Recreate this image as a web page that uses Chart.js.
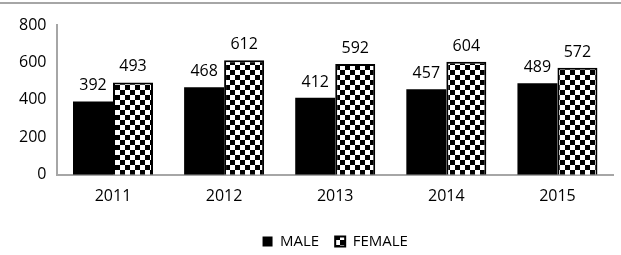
<!DOCTYPE html>
<html>
<head>
<meta charset="utf-8">
<script src="https://cdn.jsdelivr.net/npm/chart.js@4.4.1/dist/chart.umd.min.js"></script>
<style>
  html, body { margin: 0; padding: 0; background: #fff; }
  #wrap { width: 621px; height: 255px; position: relative; }
</style>
</head>
<body>
<div id="wrap"><canvas id="grafico"></canvas></div>
<script>
const anos = ['2011', '2012', '2013', '2014', '2015'];
const masculino = [392, 468, 412, 457, 489];
const feminino = [493, 612, 592, 604, 572];
const yTicks = [0, 200, 400, 600, 800];

const fonte = '"Open Sans", sans-serif';

// padrao xadrez da serie FEMALE
function criarXadrez() {
    const c = document.createElement('canvas');
    c.width = 10;
    c.height = 10;
    const g = c.getContext('2d');
    g.fillStyle = '#fff';
    g.fillRect(0, 0, 10, 10);
    g.fillStyle = '#000';
    g.fillRect(0, 0, 5, 5);
    g.fillRect(5, 5, 5, 5);
    return document.getElementById('grafico').getContext('2d').createPattern(c, 'repeat');
}

const xadrez = criarXadrez();

// rotulos em cima das barras + linha cinza no topo
const rotulos = {
    id: 'rotulos',
    afterDatasetsDraw(chart) {
        const ctx = chart.ctx;
        ctx.save();
        ctx.font = '16px ' + fonte;
        ctx.fillStyle = '#000';
        ctx.textAlign = 'center';
        ctx.textBaseline = 'alphabetic';
        chart.data.datasets.forEach((ds, i) => {
            chart.getDatasetMeta(i).data.forEach((bar, j) => {
                ctx.fillText(ds.data[j], bar.x, bar.y - 11);
            });
        });
        ctx.strokeStyle = '#a6a6a6';
        ctx.lineWidth = 2;
        ctx.beginPath();
        ctx.moveTo(0, 3);
        ctx.lineTo(chart.width, 3);
        ctx.stroke();
        ctx.restore();
    }
};

const ctx = document.getElementById('grafico').getContext('2d');
const grafico = new Chart(ctx, {
    type: 'bar',
    data: {
        labels: anos,
        datasets: [{
            label: 'MALE',
            data: masculino,
            backgroundColor: '#000',
            borderColor: '#000',
            borderWidth: 0
        }, {
            label: 'FEMALE',
            data: feminino,
            backgroundColor: xadrez,
            borderColor: '#000',
            borderWidth: 2
        }]
    },
    options: {
        responsive: true,
        maintainAspectRatio: false,
        animation: false,
        layout: {
            padding: { top: 25, right: 8, left: 8, bottom: -4 }
        },
        datasets: {
            bar: {
                categoryPercentage: 0.72,
                barPercentage: 1
            }
        },
        scales: {
            x: {
                grid: { display: false, drawTicks: false },
                border: { color: '#a6a6a6', width: 2 },
                ticks: {
                    color: '#000',
                    padding: 12,
                    font: { family: fonte, size: 16 }
                }
            },
            y: {
                min: 0,
                max: 800,
                afterBuildTicks: axis => {
                    axis.ticks = yTicks.map(v => ({ value: v }));
                },
                grid: { display: false, drawTicks: false },
                border: { color: '#a6a6a6', width: 2 },
                ticks: {
                    color: '#000',
                    padding: 11,
                    font: { family: fonte, size: 16 }
                }
            }
        },
        plugins: {
            legend: {
                position: 'bottom',
                fullSize: false,
                labels: {
                    color: '#000',
                    boxWidth: 10,
                    boxHeight: 10,
                    padding: 16,
                    font: { family: fonte, size: 15 }
                }
            },
            tooltip: { enabled: false }
        }
    },
    plugins: [rotulos]
});
</script>
</body>
</html>
